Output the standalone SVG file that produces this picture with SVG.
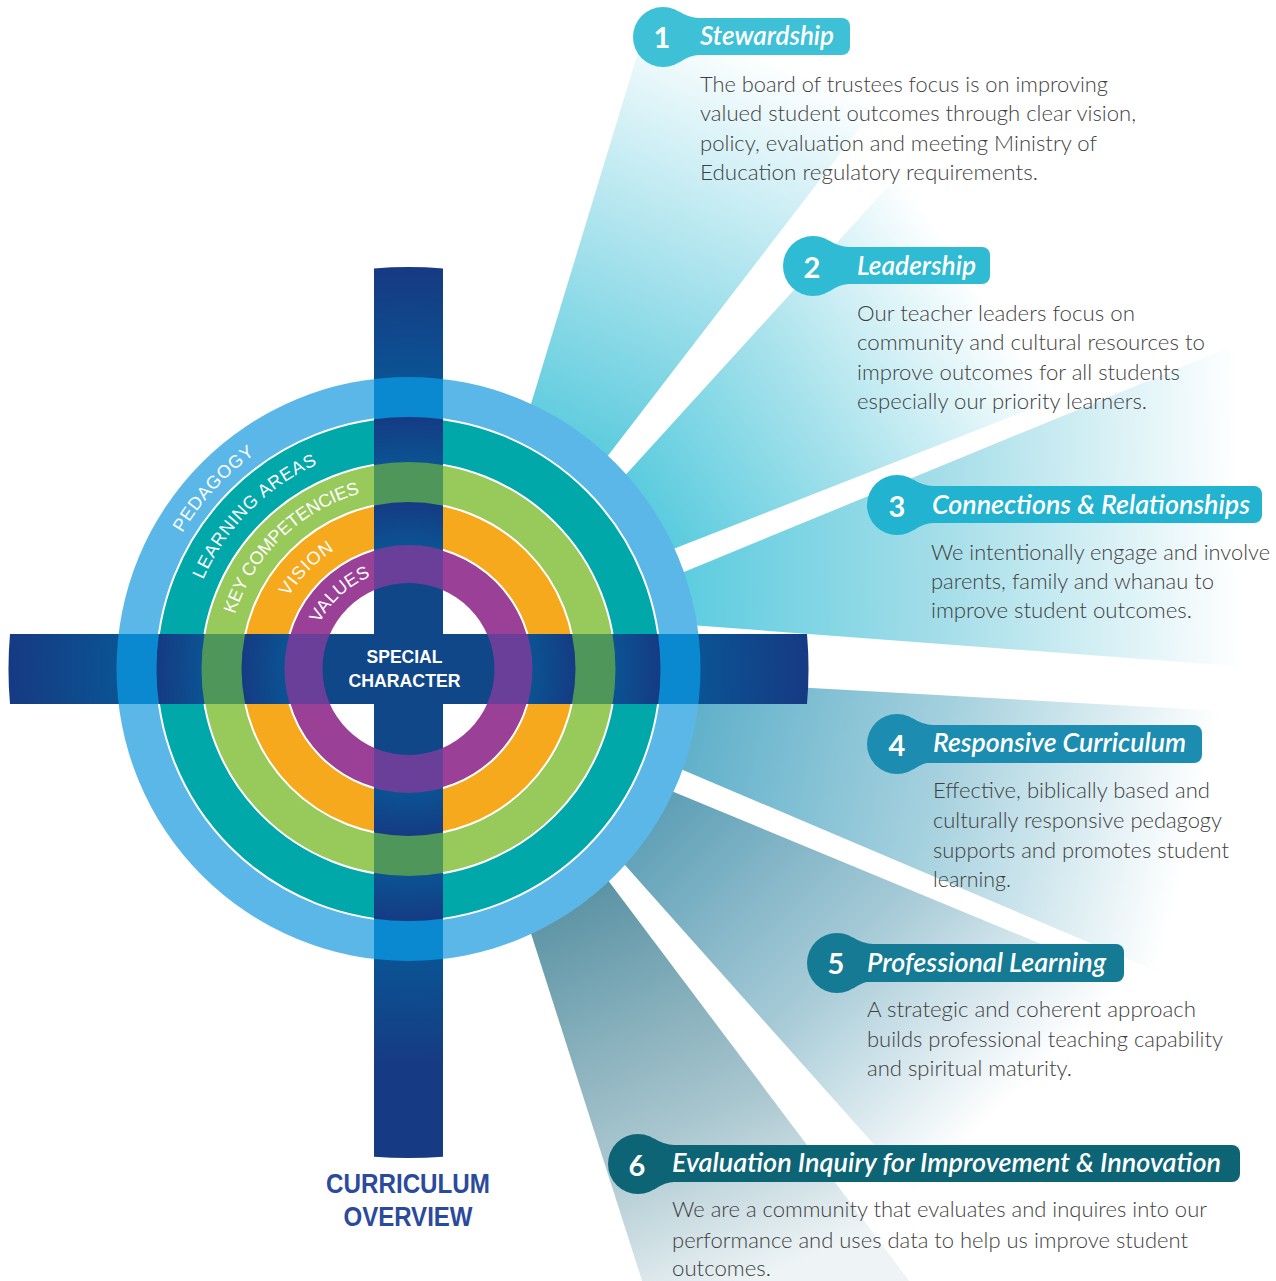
<svg xmlns="http://www.w3.org/2000/svg" width="1276" height="1281" viewBox="0 0 1276 1281">
  <style>
    .desc{font-family:Lato,"Liberation Sans",sans-serif;font-weight:300;font-size:21px;fill:#3f3f3f}
    .title{font-family:Lato,"Liberation Sans",sans-serif;font-style:italic;font-weight:600;font-size:27px;fill:#ffffff}
    .num{font-family:Lato,"Liberation Sans",sans-serif;font-weight:700;font-size:29px;fill:#ffffff;text-anchor:middle}
    .ring{font-family:"Liberation Sans",Arial,sans-serif;font-size:18px;fill:#ffffff}
    .sep{fill:none;stroke:#ffffff;stroke-width:2}
    .hub{font-family:"Liberation Sans",Arial,sans-serif;font-weight:700;font-size:19px;fill:#ffffff;text-anchor:middle}
    .caption{font-family:"Liberation Sans",Arial,sans-serif;font-weight:700;font-size:27px;fill:#2b4a9b;text-anchor:middle}
  </style>
  <defs>
    <!-- light rays behind the wheel -->
    <linearGradient id="ray1" gradientUnits="userSpaceOnUse" x1="560" y1="440" x2="730" y2="40">
      <stop offset="0" stop-color="#5ccbdd"/><stop offset="0.5" stop-color="#aee4ee"/><stop offset="1" stop-color="#ffffff"/>
    </linearGradient>
    <linearGradient id="ray2" gradientUnits="userSpaceOnUse" x1="640" y1="520" x2="980" y2="290">
      <stop offset="0" stop-color="#55cadd"/><stop offset="0.5" stop-color="#a8e2ec"/><stop offset="1" stop-color="#ffffff"/>
    </linearGradient>
    <linearGradient id="ray3" gradientUnits="userSpaceOnUse" x1="690" y1="600" x2="1240" y2="590">
      <stop offset="0" stop-color="#5fcde0"/><stop offset="0.45" stop-color="#a3dde8"/><stop offset="1" stop-color="#ffffff"/>
    </linearGradient>
    <linearGradient id="ray4" gradientUnits="userSpaceOnUse" x1="690" y1="720" x2="1190" y2="840">
      <stop offset="0" stop-color="#5fb0ca"/><stop offset="0.5" stop-color="#a6d1de"/><stop offset="1" stop-color="#ffffff"/>
    </linearGradient>
    <linearGradient id="ray5" gradientUnits="userSpaceOnUse" x1="640" y1="810" x2="970" y2="1140">
      <stop offset="0" stop-color="#5b9db5"/><stop offset="0.55" stop-color="#a9ccd8"/><stop offset="1" stop-color="#ffffff"/>
    </linearGradient>
    <linearGradient id="ray6" gradientUnits="userSpaceOnUse" x1="560" y1="900" x2="740" y2="1290">
      <stop offset="0" stop-color="#5b93a4"/><stop offset="0.6" stop-color="#a9c6cf"/><stop offset="1" stop-color="#eef4f6"/>
    </linearGradient>

    <!-- cross shading: lighter toward the hub within each band -->
    <radialGradient id="armShade" gradientUnits="userSpaceOnUse" cx="408.5" cy="669" r="490">
      <stop offset="0.596" stop-color="#0b5393"/><stop offset="0.816" stop-color="#163a83"/><stop offset="1" stop-color="#163a83"/>
    </radialGradient>
    <radialGradient id="navyA" gradientUnits="userSpaceOnUse" cx="408.5" cy="669" r="252">
      <stop offset="0.82" stop-color="#0b5393"/><stop offset="1" stop-color="#153b83"/>
    </radialGradient>
    <radialGradient id="navyB" gradientUnits="userSpaceOnUse" cx="408.5" cy="669" r="167">
      <stop offset="0.74" stop-color="#0b5393"/><stop offset="1" stop-color="#153b83"/>
    </radialGradient>

    <clipPath id="crossClip">
      <path d="M374,268.5 A402,402 0 0 1 443,268.5 L443,1156.8 A489,489 0 0 1 374,1156.8 Z"/>
      <path d="M10,634 L807,634 A400,400 0 0 1 807,704 L10,704 A400,400 0 0 1 10,634 Z"/>
    </clipPath>

    <!-- smooth join between a number disc and its title bar (centred on the disc) -->
    <path id="badgeJoin" d="M16,-25.4 Q26.2,-19 36,-19 L36,18 Q27.75,18 16,25.4 Z"/>

    <!-- baselines for the ring labels -->
    <path id="arcPedagogy" d="M182.21,533.03 A264,264 0 0 1 255.20,454.07"/>
    <path id="arcLearning" d="M203.08,579.68 A224,224 0 0 1 317.39,464.36"/>
    <path id="arcKey" d="M234.92,614.27 A182,182 0 0 1 359.86,493.62"/>
    <path id="arcVision" d="M288.50,596.89 A140,140 0 0 1 334.31,550.27"/>
    <path id="arcValues" d="M319.40,623.60 A100,100 0 0 1 371.04,576.28"/>
  </defs>

  <rect width="1276" height="1281" fill="#ffffff"/>

  <!-- rays fanning out to the six focus areas -->
  <g id="rays">
    <polygon points="517,450 657,-10 966,-10 590,479" fill="url(#ray1)"/>
    <polygon points="600,503 894,180 1130,370 640,562" fill="url(#ray2)"/>
    <polygon points="650,586 1276,328 1276,669 650,622" fill="url(#ray3)"/>
    <polygon points="650,679 1276,714 1276,1022 650,756" fill="url(#ray4)"/>
    <polygon points="600,837 640,778 1150,989 960,1241" fill="url(#ray5)"/>
    <polygon points="520,899 580,843 916,1290 645,1290" fill="url(#ray6)"/>
  </g>

  <!-- concentric wheel with the cross -->
  <g id="wheel">
    <circle cx="408.5" cy="669" r="292" fill="#5ab7e7"/>
    <circle cx="408.5" cy="669" r="252" fill="#00a8a9"/>
    <circle cx="408.5" cy="669" r="207" fill="#98c95b"/>
    <circle cx="408.5" cy="669" r="167" fill="#f6a91d"/>
    <circle cx="408.5" cy="669" r="124" fill="#9b4097"/>
    <circle cx="408.5" cy="669" r="86" fill="#ffffff"/>
    <circle class="sep" cx="408.5" cy="669" r="252"/>
    <circle class="sep" cx="408.5" cy="669" r="207"/>
    <circle class="sep" cx="408.5" cy="669" r="167"/>
    <circle class="sep" cx="408.5" cy="669" r="124"/>

    <g id="cross" clip-path="url(#crossClip)">
      <circle cx="408.5" cy="669" r="490" fill="url(#armShade)"/>
      <circle cx="408.5" cy="669" r="292" fill="#0a88d0"/>
      <circle cx="408.5" cy="669" r="252" fill="url(#navyA)"/>
      <circle cx="408.5" cy="669" r="207" fill="#4f965a"/>
      <circle cx="408.5" cy="669" r="167" fill="url(#navyB)"/>
      <circle cx="408.5" cy="669" r="124" fill="#6a3f99"/>
      <circle cx="408.5" cy="669" r="86" fill="#0f4789"/>
    </g>

    <text class="ring"><textPath href="#arcPedagogy" textLength="108" lengthAdjust="spacing">PEDAGOGY</textPath></text>
    <text class="ring"><textPath href="#arcLearning" textLength="166" lengthAdjust="spacing">LEARNING AREAS</textPath></text>
    <text class="ring"><textPath href="#arcKey" textLength="181" lengthAdjust="spacing">KEY COMPETENCIES</textPath></text>
    <text class="ring"><textPath href="#arcVision" textLength="66" lengthAdjust="spacing">VISION</textPath></text>
    <text class="ring"><textPath href="#arcValues" textLength="71" lengthAdjust="spacing">VALUES</textPath></text>

    <text class="hub" x="404.5" y="663" textLength="76" lengthAdjust="spacingAndGlyphs">SPECIAL</text>
    <text class="hub" x="404.5" y="687" textLength="112" lengthAdjust="spacingAndGlyphs">CHARACTER</text>
  </g>

  <g id="caption">
    <text class="caption" x="408" y="1193" textLength="164" lengthAdjust="spacingAndGlyphs">CURRICULUM</text>
    <text class="caption" x="408" y="1226" textLength="129" lengthAdjust="spacingAndGlyphs">OVERVIEW</text>
  </g>

  <!-- focus areas -->
  <g id="item-1">
    <rect x="663" y="18" width="187" height="37" rx="8" fill="#3ec0d6"/>
    <circle cx="663" cy="37" r="30" fill="#3ec0d6"/>
    <use href="#badgeJoin" x="663" y="37" fill="#3ec0d6"/>
    <text class="num" x="662" y="48">1</text>
    <text class="title" x="700" y="45" textLength="134" lengthAdjust="spacingAndGlyphs">Stewardship</text>
    <text class="desc" x="700" y="92" textLength="408" lengthAdjust="spacingAndGlyphs">The board of trustees focus is on improving</text>
    <text class="desc" x="700" y="121" textLength="436" lengthAdjust="spacingAndGlyphs">valued student outcomes through clear vision,</text>
    <text class="desc" x="700" y="151" textLength="397" lengthAdjust="spacingAndGlyphs">policy, evaluation and meeting Ministry of</text>
    <text class="desc" x="700" y="180" textLength="338" lengthAdjust="spacingAndGlyphs">Education regulatory requirements.</text>
  </g>

  <g id="item-2">
    <rect x="813" y="247" width="177" height="37" rx="8" fill="#2fbbd4"/>
    <circle cx="813" cy="266" r="30" fill="#2fbbd4"/>
    <use href="#badgeJoin" x="813" y="266" fill="#2fbbd4"/>
    <text class="num" x="812" y="278">2</text>
    <text class="title" x="857" y="275" textLength="119" lengthAdjust="spacingAndGlyphs">Leadership</text>
    <text class="desc" x="857" y="321" textLength="278" lengthAdjust="spacingAndGlyphs">Our teacher leaders focus on</text>
    <text class="desc" x="857" y="350" textLength="348" lengthAdjust="spacingAndGlyphs">community and cultural resources to</text>
    <text class="desc" x="857" y="380" textLength="323" lengthAdjust="spacingAndGlyphs">improve outcomes for all students</text>
    <text class="desc" x="857" y="409" textLength="290" lengthAdjust="spacingAndGlyphs">especially our priority learners.</text>
  </g>

  <g id="item-3">
    <rect x="897" y="486" width="365" height="37" rx="8" fill="#22b3d0"/>
    <circle cx="897" cy="505" r="30" fill="#22b3d0"/>
    <use href="#badgeJoin" x="897" y="505" fill="#22b3d0"/>
    <text class="num" x="897" y="517">3</text>
    <text class="title" x="932" y="514" textLength="318" lengthAdjust="spacingAndGlyphs">Connections &amp; Relationships</text>
    <text class="desc" x="931" y="560" textLength="339" lengthAdjust="spacingAndGlyphs">We intentionally engage and involve</text>
    <text class="desc" x="931" y="589" textLength="283" lengthAdjust="spacingAndGlyphs">parents, family and whanau to</text>
    <text class="desc" x="931" y="618" textLength="261" lengthAdjust="spacingAndGlyphs">improve student outcomes.</text>
  </g>

  <g id="item-4">
    <rect x="897" y="725" width="305" height="38" rx="8" fill="#1c8db0"/>
    <circle cx="897" cy="744" r="30" fill="#1c8db0"/>
    <use href="#badgeJoin" x="897" y="744" fill="#1c8db0"/>
    <text class="num" x="897" y="756">4</text>
    <text class="title" x="933" y="752" textLength="253" lengthAdjust="spacingAndGlyphs">Responsive Curriculum</text>
    <text class="desc" x="933" y="798" textLength="277" lengthAdjust="spacingAndGlyphs">Effective, biblically based and</text>
    <text class="desc" x="933" y="828" textLength="289" lengthAdjust="spacingAndGlyphs">culturally responsive pedagogy</text>
    <text class="desc" x="933" y="858" textLength="296" lengthAdjust="spacingAndGlyphs">supports and promotes student</text>
    <text class="desc" x="933" y="887" textLength="78" lengthAdjust="spacingAndGlyphs">learning.</text>
  </g>

  <g id="item-5">
    <rect x="837" y="944" width="287" height="38" rx="8" fill="#157a93"/>
    <circle cx="837" cy="963" r="30" fill="#157a93"/>
    <use href="#badgeJoin" x="837" y="963" fill="#157a93"/>
    <text class="num" x="836" y="974">5</text>
    <text class="title" x="867" y="972" textLength="239" lengthAdjust="spacingAndGlyphs">Professional Learning</text>
    <text class="desc" x="867" y="1017" textLength="329" lengthAdjust="spacingAndGlyphs">A strategic and coherent approach</text>
    <text class="desc" x="867" y="1047" textLength="356" lengthAdjust="spacingAndGlyphs">builds professional teaching capability</text>
    <text class="desc" x="867" y="1076" textLength="205" lengthAdjust="spacingAndGlyphs">and spiritual maturity.</text>
  </g>

  <g id="item-6">
    <rect x="638" y="1145" width="602" height="37" rx="8" fill="#0d6475"/>
    <circle cx="638" cy="1164" r="30" fill="#0d6475"/>
    <use href="#badgeJoin" x="638" y="1164" fill="#0d6475"/>
    <text class="num" x="637" y="1176">6</text>
    <text class="title" x="672" y="1172" textLength="549" lengthAdjust="spacingAndGlyphs">Evaluation Inquiry for Improvement &amp; Innovation</text>
    <text class="desc" x="672" y="1217" textLength="535" lengthAdjust="spacingAndGlyphs">We are a community that evaluates and inquires into our</text>
    <text class="desc" x="672" y="1248" textLength="516" lengthAdjust="spacingAndGlyphs">performance and uses data to help us improve student</text>
    <text class="desc" x="672" y="1276" textLength="99" lengthAdjust="spacingAndGlyphs">outcomes.</text>
  </g>
</svg>
